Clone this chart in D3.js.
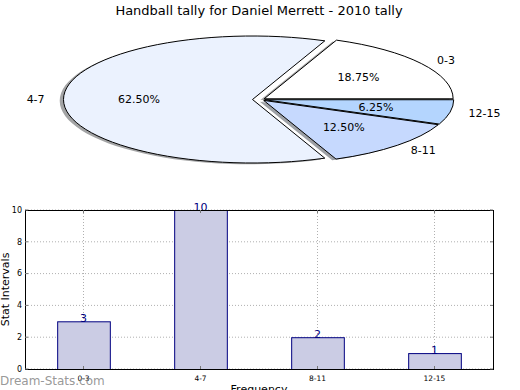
<!DOCTYPE html>
<html><head><meta charset="utf-8">
<script src="https://cdn.jsdelivr.net/npm/d3@7"></script>
<style>body{margin:0;background:#fff;} svg{display:block;font-family:"DejaVu Sans",sans-serif;}</style>
</head><body>
<svg id="c" width="520" height="390"></svg>
<script>
const title = "Handball tally for Daniel Merrett - 2010 tally";
const categories = ["0-3", "4-7", "8-11", "12-15"];
const values = [3, 10, 2, 1];
const pieColors = ["#ffffff", "#ebf2fe", "#c6d9fe", "#b4d5fe"];
const explode = [0.02, 0.045, 0.02, 0.02];
const yTicks = [0, 2, 4, 6, 8, 10];
const yLabel = "Stat Intervals";
const xLabel = "Frequency";
const watermark = "Dream-Stats.com";

const svg = d3.select("#c");

svg.append("text").attr("x", 259).attr("y", 15).attr("text-anchor", "middle")
  .attr("font-size", 13).attr("fill", "#000").text(title);

// ---- Pie (matplotlib style, squashed into ellipse) ----
const cx = 261, cy = 99.5, rx = 189, ry = 63.5;
const px = d3.scaleLinear().domain([0, 1]).range([cx, cx + rx]);
const py = d3.scaleLinear().domain([0, 1]).range([cy, cy - ry]);
const total = d3.sum(values);
const arcs = d3.pie().sort(null).startAngle(0).endAngle(2 * Math.PI)(values);
function wedgePath(a, i, sx, sy) {
  const t1 = a.startAngle, t2 = a.endAngle, mid = (t1 + t2) / 2;
  const ox = explode[i] * Math.cos(mid) + sx, oy = explode[i] * Math.sin(mid) + sy;
  const c = [px(ox), py(oy)];
  const p1 = [px(ox + Math.cos(t1)), py(oy + Math.sin(t1))];
  const p2 = [px(ox + Math.cos(t2)), py(oy + Math.sin(t2))];
  const large = (t2 - t1) > Math.PI ? 1 : 0;
  return `M${c[0]},${c[1]}L${p1[0]},${p1[1]}A${rx},${ry} 0 ${large} 0 ${p2[0]},${p2[1]}Z`;
}
const pie = svg.append("g");
arcs.forEach((a, i) => {
  const col = d3.rgb(pieColors[i]);
  const sc = d3.rgb(col.r * 0.3, col.g * 0.3, col.b * 0.3);
  pie.append("path").attr("d", wedgePath(a, i, -0.02, -0.02))
    .attr("fill", sc).attr("fill-opacity", 0.5).attr("stroke", "none");
});
arcs.forEach((a, i) => {
  pie.append("path").attr("d", wedgePath(a, i, 0, 0))
    .attr("fill", pieColors[i]).attr("stroke", "#000").attr("stroke-width", 1)
    .attr("stroke-linejoin", "miter");
});
arcs.forEach((a, i) => {
  const mid = (a.startAngle + a.endAngle) / 2;
  const ox = explode[i] * Math.cos(mid), oy = explode[i] * Math.sin(mid);
  const lx = ox + 1.1 * Math.cos(mid), ly = oy + 1.1 * Math.sin(mid);
  pie.append("text").attr("x", px(lx)).attr("y", py(ly)).attr("dy", "0.35em")
    .attr("text-anchor", lx > 0 ? "start" : "end").attr("font-size", 11).text(categories[i]);
  const tx = ox + 0.6 * Math.cos(mid), ty = oy + 0.6 * Math.sin(mid);
  pie.append("text").attr("x", px(tx)).attr("y", py(ty)).attr("dy", "0.35em")
    .attr("text-anchor", "middle").attr("font-size", 11)
    .text((values[i] / total * 100).toFixed(2) + "%");
});

// ---- Bar chart ----
const L = 25, R = 493, T = 210, B = 369;
const x = d3.scaleLinear().domain([-0.5, categories.length - 0.5]).range([L, R]);
const y = d3.scaleLinear().domain([0, 10]).range([B, T]);
const barW = 0.45;
const g = svg.append("g");
yTicks.forEach(v => {
  g.append("line").attr("x1", L).attr("x2", R).attr("y1", y(v)).attr("y2", y(v))
    .attr("stroke", "#b0b0b0").attr("stroke-width", 1).attr("stroke-dasharray", "1,2");
});
categories.forEach((c, i) => {
  g.append("line").attr("x1", x(i)).attr("x2", x(i)).attr("y1", T).attr("y2", B)
    .attr("stroke", "#b0b0b0").attr("stroke-width", 1).attr("stroke-dasharray", "1,2");
});
g.selectAll("rect.bar").data(values).enter().append("rect")
  .attr("x", (d, i) => x(i - barW / 2) + 0.5)
  .attr("width", (d, i) => x(barW) - x(0))
  .attr("y", d => y(d) + 0.5)
  .attr("height", d => y(0) - y(d))
  .attr("fill", "#cbcce4").attr("stroke", "#000080").attr("stroke-width", 1);
g.selectAll("text.val").data(values).enter().append("text")
  .attr("x", (d, i) => x(i)).attr("y", d => y(d) + 1)
  .attr("text-anchor", "middle").attr("font-size", 11).attr("fill", "#000080")
  .text(d => d);
g.append("rect").attr("x", L + 0.5).attr("y", T + 0.5).attr("width", R - L).attr("height", B - T)
  .attr("fill", "none").attr("stroke", "#000").attr("stroke-width", 1);
yTicks.forEach(v => {
  g.append("line").attr("x1", L).attr("x2", L + 3).attr("y1", y(v)).attr("y2", y(v)).attr("stroke", "#777");
  g.append("line").attr("x1", R - 3).attr("x2", R).attr("y1", y(v)).attr("y2", y(v)).attr("stroke", "#777");
  g.append("text").attr("x", L - 3).attr("y", y(v)).attr("dy", "0.35em").attr("text-anchor", "end")
    .attr("font-size", 8).text(v);
});
categories.forEach((c, i) => {
  g.append("line").attr("x1", x(i)).attr("x2", x(i)).attr("y1", B).attr("y2", B - 3).attr("stroke", "#777");
  g.append("line").attr("x1", x(i)).attr("x2", x(i)).attr("y1", T).attr("y2", T + 3).attr("stroke", "#777");
  g.append("text").attr("x", x(i)).attr("y", B + 12).attr("text-anchor", "middle")
    .attr("font-size", 7.5).text(c);
});
svg.append("text").attr("transform", `translate(9,${(T + B) / 2}) rotate(-90)`)
  .attr("text-anchor", "middle").attr("font-size", 11).text(yLabel);
svg.append("text").attr("x", (L + R) / 2).attr("y", 393).attr("text-anchor", "middle")
  .attr("font-size", 11).text(xLabel);
svg.append("text").attr("x", 0).attr("y", 385).attr("font-size", 12)
  .attr("fill", "#8c8c8c").attr("fill-opacity", 0.9).text(watermark);
</script>
</body></html>
